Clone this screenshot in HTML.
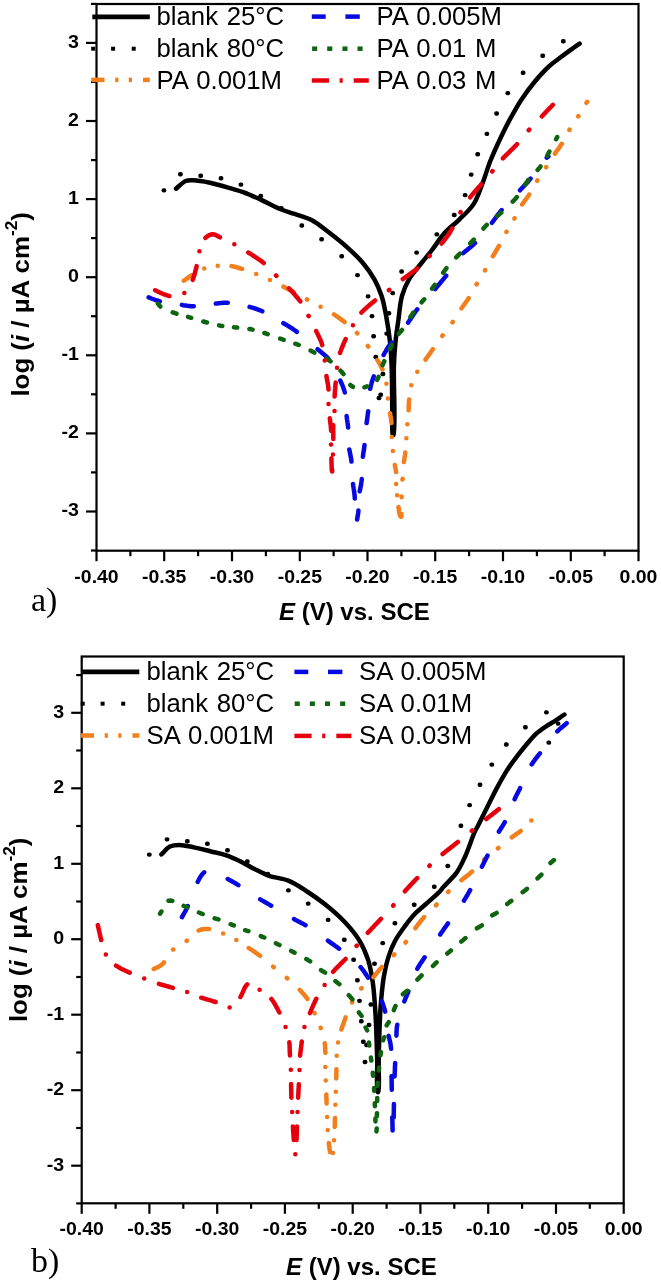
<!DOCTYPE html>
<html><head><meta charset="utf-8"><style>
html,body{margin:0;padding:0;background:#fff;width:661px;height:1280px;overflow:hidden;position:relative}
</style></head><body>
<svg width="661" height="1280" viewBox="0 0 661 1280" style="position:absolute;left:0;top:0;will-change:transform">
<rect x="96.5" y="4" width="542.0" height="546.7" fill="none" stroke="#000" stroke-width="2.2"/>
<line x1="96.5" y1="550.7" x2="96.5" y2="561.2" stroke="#000" stroke-width="2.2"/>
<line x1="130.4" y1="550.7" x2="130.4" y2="556.2" stroke="#000" stroke-width="2.2"/>
<line x1="164.2" y1="550.7" x2="164.2" y2="561.2" stroke="#000" stroke-width="2.2"/>
<line x1="198.1" y1="550.7" x2="198.1" y2="556.2" stroke="#000" stroke-width="2.2"/>
<line x1="232" y1="550.7" x2="232" y2="561.2" stroke="#000" stroke-width="2.2"/>
<line x1="265.9" y1="550.7" x2="265.9" y2="556.2" stroke="#000" stroke-width="2.2"/>
<line x1="299.8" y1="550.7" x2="299.8" y2="561.2" stroke="#000" stroke-width="2.2"/>
<line x1="333.6" y1="550.7" x2="333.6" y2="556.2" stroke="#000" stroke-width="2.2"/>
<line x1="367.5" y1="550.7" x2="367.5" y2="561.2" stroke="#000" stroke-width="2.2"/>
<line x1="401.4" y1="550.7" x2="401.4" y2="556.2" stroke="#000" stroke-width="2.2"/>
<line x1="435.2" y1="550.7" x2="435.2" y2="561.2" stroke="#000" stroke-width="2.2"/>
<line x1="469.1" y1="550.7" x2="469.1" y2="556.2" stroke="#000" stroke-width="2.2"/>
<line x1="503" y1="550.7" x2="503" y2="561.2" stroke="#000" stroke-width="2.2"/>
<line x1="536.9" y1="550.7" x2="536.9" y2="556.2" stroke="#000" stroke-width="2.2"/>
<line x1="570.8" y1="550.7" x2="570.8" y2="561.2" stroke="#000" stroke-width="2.2"/>
<line x1="604.6" y1="550.7" x2="604.6" y2="556.2" stroke="#000" stroke-width="2.2"/>
<line x1="638.5" y1="550.7" x2="638.5" y2="561.2" stroke="#000" stroke-width="2.2"/>
<line x1="86.0" y1="511.5" x2="96.5" y2="511.5" stroke="#000" stroke-width="2.2"/>
<line x1="86.0" y1="433.4" x2="96.5" y2="433.4" stroke="#000" stroke-width="2.2"/>
<line x1="86.0" y1="355.3" x2="96.5" y2="355.3" stroke="#000" stroke-width="2.2"/>
<line x1="86.0" y1="277.2" x2="96.5" y2="277.2" stroke="#000" stroke-width="2.2"/>
<line x1="86.0" y1="199.1" x2="96.5" y2="199.1" stroke="#000" stroke-width="2.2"/>
<line x1="86.0" y1="121" x2="96.5" y2="121" stroke="#000" stroke-width="2.2"/>
<line x1="86.0" y1="42.9" x2="96.5" y2="42.9" stroke="#000" stroke-width="2.2"/>
<line x1="91.0" y1="550.5" x2="96.5" y2="550.5" stroke="#000" stroke-width="2.2"/>
<line x1="91.0" y1="472.4" x2="96.5" y2="472.4" stroke="#000" stroke-width="2.2"/>
<line x1="91.0" y1="394.3" x2="96.5" y2="394.3" stroke="#000" stroke-width="2.2"/>
<line x1="91.0" y1="316.2" x2="96.5" y2="316.2" stroke="#000" stroke-width="2.2"/>
<line x1="91.0" y1="238.1" x2="96.5" y2="238.1" stroke="#000" stroke-width="2.2"/>
<line x1="91.0" y1="160.1" x2="96.5" y2="160.1" stroke="#000" stroke-width="2.2"/>
<line x1="91.0" y1="81.9" x2="96.5" y2="81.9" stroke="#000" stroke-width="2.2"/>
<line x1="91.0" y1="3.9" x2="96.5" y2="3.9" stroke="#000" stroke-width="2.2"/>
<rect x="81.7" y="656.5" width="542.0" height="546.8" fill="none" stroke="#000" stroke-width="2.2"/>
<line x1="81.7" y1="1203.3" x2="81.7" y2="1213.8" stroke="#000" stroke-width="2.2"/>
<line x1="115.6" y1="1203.3" x2="115.6" y2="1208.8" stroke="#000" stroke-width="2.2"/>
<line x1="149.4" y1="1203.3" x2="149.4" y2="1213.8" stroke="#000" stroke-width="2.2"/>
<line x1="183.3" y1="1203.3" x2="183.3" y2="1208.8" stroke="#000" stroke-width="2.2"/>
<line x1="217.2" y1="1203.3" x2="217.2" y2="1213.8" stroke="#000" stroke-width="2.2"/>
<line x1="251.1" y1="1203.3" x2="251.1" y2="1208.8" stroke="#000" stroke-width="2.2"/>
<line x1="284.9" y1="1203.3" x2="284.9" y2="1213.8" stroke="#000" stroke-width="2.2"/>
<line x1="318.8" y1="1203.3" x2="318.8" y2="1208.8" stroke="#000" stroke-width="2.2"/>
<line x1="352.7" y1="1203.3" x2="352.7" y2="1213.8" stroke="#000" stroke-width="2.2"/>
<line x1="386.6" y1="1203.3" x2="386.6" y2="1208.8" stroke="#000" stroke-width="2.2"/>
<line x1="420.4" y1="1203.3" x2="420.4" y2="1213.8" stroke="#000" stroke-width="2.2"/>
<line x1="454.3" y1="1203.3" x2="454.3" y2="1208.8" stroke="#000" stroke-width="2.2"/>
<line x1="488.2" y1="1203.3" x2="488.2" y2="1213.8" stroke="#000" stroke-width="2.2"/>
<line x1="522.1" y1="1203.3" x2="522.1" y2="1208.8" stroke="#000" stroke-width="2.2"/>
<line x1="556" y1="1203.3" x2="556" y2="1213.8" stroke="#000" stroke-width="2.2"/>
<line x1="589.8" y1="1203.3" x2="589.8" y2="1208.8" stroke="#000" stroke-width="2.2"/>
<line x1="623.7" y1="1203.3" x2="623.7" y2="1213.8" stroke="#000" stroke-width="2.2"/>
<line x1="71.2" y1="1165.7" x2="81.7" y2="1165.7" stroke="#000" stroke-width="2.2"/>
<line x1="71.2" y1="1090.2" x2="81.7" y2="1090.2" stroke="#000" stroke-width="2.2"/>
<line x1="71.2" y1="1014.7" x2="81.7" y2="1014.7" stroke="#000" stroke-width="2.2"/>
<line x1="71.2" y1="939.2" x2="81.7" y2="939.2" stroke="#000" stroke-width="2.2"/>
<line x1="71.2" y1="863.8" x2="81.7" y2="863.8" stroke="#000" stroke-width="2.2"/>
<line x1="71.2" y1="788.3" x2="81.7" y2="788.3" stroke="#000" stroke-width="2.2"/>
<line x1="71.2" y1="712.8" x2="81.7" y2="712.8" stroke="#000" stroke-width="2.2"/>
<line x1="76.2" y1="1203.4" x2="81.7" y2="1203.4" stroke="#000" stroke-width="2.2"/>
<line x1="76.2" y1="1128" x2="81.7" y2="1128" stroke="#000" stroke-width="2.2"/>
<line x1="76.2" y1="1052.5" x2="81.7" y2="1052.5" stroke="#000" stroke-width="2.2"/>
<line x1="76.2" y1="977" x2="81.7" y2="977" stroke="#000" stroke-width="2.2"/>
<line x1="76.2" y1="901.5" x2="81.7" y2="901.5" stroke="#000" stroke-width="2.2"/>
<line x1="76.2" y1="826" x2="81.7" y2="826" stroke="#000" stroke-width="2.2"/>
<line x1="76.2" y1="750.5" x2="81.7" y2="750.5" stroke="#000" stroke-width="2.2"/>
<line x1="76.2" y1="675.1" x2="81.7" y2="675.1" stroke="#000" stroke-width="2.2"/>
<text x="0" y="583" font-family="Liberation Sans" font-weight="bold" font-size="18" text-anchor="middle" transform="translate(96.5,0) scale(1.08,1)">-0.40</text>
<text x="0" y="583" font-family="Liberation Sans" font-weight="bold" font-size="18" text-anchor="middle" transform="translate(164.2,0) scale(1.08,1)">-0.35</text>
<text x="0" y="583" font-family="Liberation Sans" font-weight="bold" font-size="18" text-anchor="middle" transform="translate(232,0) scale(1.08,1)">-0.30</text>
<text x="0" y="583" font-family="Liberation Sans" font-weight="bold" font-size="18" text-anchor="middle" transform="translate(299.8,0) scale(1.08,1)">-0.25</text>
<text x="0" y="583" font-family="Liberation Sans" font-weight="bold" font-size="18" text-anchor="middle" transform="translate(367.5,0) scale(1.08,1)">-0.20</text>
<text x="0" y="583" font-family="Liberation Sans" font-weight="bold" font-size="18" text-anchor="middle" transform="translate(435.2,0) scale(1.08,1)">-0.15</text>
<text x="0" y="583" font-family="Liberation Sans" font-weight="bold" font-size="18" text-anchor="middle" transform="translate(503,0) scale(1.08,1)">-0.10</text>
<text x="0" y="583" font-family="Liberation Sans" font-weight="bold" font-size="18" text-anchor="middle" transform="translate(570.8,0) scale(1.08,1)">-0.05</text>
<text x="0" y="583" font-family="Liberation Sans" font-weight="bold" font-size="18" text-anchor="middle" transform="translate(638.5,0) scale(1.08,1)">0.00</text>
<text x="0" y="516.4" font-family="Liberation Sans" font-weight="bold" font-size="18" text-anchor="end" transform="translate(79,0) scale(1.09,1)">-3</text>
<text x="0" y="438.3" font-family="Liberation Sans" font-weight="bold" font-size="18" text-anchor="end" transform="translate(79,0) scale(1.09,1)">-2</text>
<text x="0" y="360.2" font-family="Liberation Sans" font-weight="bold" font-size="18" text-anchor="end" transform="translate(79,0) scale(1.09,1)">-1</text>
<text x="0" y="282.1" font-family="Liberation Sans" font-weight="bold" font-size="18" text-anchor="end" transform="translate(79,0) scale(1.09,1)">0</text>
<text x="0" y="204" font-family="Liberation Sans" font-weight="bold" font-size="18" text-anchor="end" transform="translate(79,0) scale(1.09,1)">1</text>
<text x="0" y="125.9" font-family="Liberation Sans" font-weight="bold" font-size="18" text-anchor="end" transform="translate(79,0) scale(1.09,1)">2</text>
<text x="0" y="47.8" font-family="Liberation Sans" font-weight="bold" font-size="18" text-anchor="end" transform="translate(79,0) scale(1.09,1)">3</text>
<text x="0" y="1235" font-family="Liberation Sans" font-weight="bold" font-size="18" text-anchor="middle" transform="translate(81.7,0) scale(1.08,1)">-0.40</text>
<text x="0" y="1235" font-family="Liberation Sans" font-weight="bold" font-size="18" text-anchor="middle" transform="translate(149.4,0) scale(1.08,1)">-0.35</text>
<text x="0" y="1235" font-family="Liberation Sans" font-weight="bold" font-size="18" text-anchor="middle" transform="translate(217.2,0) scale(1.08,1)">-0.30</text>
<text x="0" y="1235" font-family="Liberation Sans" font-weight="bold" font-size="18" text-anchor="middle" transform="translate(284.9,0) scale(1.08,1)">-0.25</text>
<text x="0" y="1235" font-family="Liberation Sans" font-weight="bold" font-size="18" text-anchor="middle" transform="translate(352.7,0) scale(1.08,1)">-0.20</text>
<text x="0" y="1235" font-family="Liberation Sans" font-weight="bold" font-size="18" text-anchor="middle" transform="translate(420.4,0) scale(1.08,1)">-0.15</text>
<text x="0" y="1235" font-family="Liberation Sans" font-weight="bold" font-size="18" text-anchor="middle" transform="translate(488.2,0) scale(1.08,1)">-0.10</text>
<text x="0" y="1235" font-family="Liberation Sans" font-weight="bold" font-size="18" text-anchor="middle" transform="translate(556,0) scale(1.08,1)">-0.05</text>
<text x="0" y="1235" font-family="Liberation Sans" font-weight="bold" font-size="18" text-anchor="middle" transform="translate(623.7,0) scale(1.08,1)">0.00</text>
<text x="0" y="1170.6" font-family="Liberation Sans" font-weight="bold" font-size="18" text-anchor="end" transform="translate(64.2,0) scale(1.09,1)">-3</text>
<text x="0" y="1095.1" font-family="Liberation Sans" font-weight="bold" font-size="18" text-anchor="end" transform="translate(64.2,0) scale(1.09,1)">-2</text>
<text x="0" y="1019.6" font-family="Liberation Sans" font-weight="bold" font-size="18" text-anchor="end" transform="translate(64.2,0) scale(1.09,1)">-1</text>
<text x="0" y="944.1" font-family="Liberation Sans" font-weight="bold" font-size="18" text-anchor="end" transform="translate(64.2,0) scale(1.09,1)">0</text>
<text x="0" y="868.7" font-family="Liberation Sans" font-weight="bold" font-size="18" text-anchor="end" transform="translate(64.2,0) scale(1.09,1)">1</text>
<text x="0" y="793.2" font-family="Liberation Sans" font-weight="bold" font-size="18" text-anchor="end" transform="translate(64.2,0) scale(1.09,1)">2</text>
<text x="0" y="717.7" font-family="Liberation Sans" font-weight="bold" font-size="18" text-anchor="end" transform="translate(64.2,0) scale(1.09,1)">3</text>
<text x="0" y="620" font-family="Liberation Sans" font-weight="bold" font-size="24" transform="translate(279,0) scale(1.0,1)"><tspan font-style="italic">E</tspan> (V) vs. SCE</text>
<text x="0" y="0" font-family="Liberation Sans" font-weight="bold" font-size="24" transform="translate(29,396.6) rotate(-90) scale(1.078,1)">log (<tspan font-style="italic">i</tspan> / µA cm<tspan font-size="16" dy="-12">-2</tspan><tspan dy="12">)</tspan></text>
<text x="31" y="611" font-family="Liberation Serif" font-size="34">a)</text>
<text x="0" y="1275" font-family="Liberation Sans" font-weight="bold" font-size="24" transform="translate(286,0) scale(1.0,1)"><tspan font-style="italic">E</tspan> (V) vs. SCE</text>
<text x="0" y="0" font-family="Liberation Sans" font-weight="bold" font-size="24" transform="translate(27.2,1022.1) rotate(-90) scale(1.078,1)">log (<tspan font-style="italic">i</tspan> / µA cm<tspan font-size="16" dy="-12">-2</tspan><tspan dy="12">)</tspan></text>
<text x="31" y="1272" font-family="Liberation Serif" font-size="34">b)</text>
<text x="0" y="24.8" font-family="Liberation Sans" font-size="25" word-spacing="1.5" transform="translate(156.5,0) scale(1.03,1)">blank 25°C</text>
<text x="0" y="56.8" font-family="Liberation Sans" font-size="25" word-spacing="1.5" transform="translate(156.5,0) scale(1.03,1)">blank 80°C</text>
<text x="0" y="88.8" font-family="Liberation Sans" font-size="25" word-spacing="1.5" transform="translate(156.5,0) scale(1.03,1)">PA 0.001M</text>
<text x="0" y="24.8" font-family="Liberation Sans" font-size="25" word-spacing="1.5" transform="translate(376.5,0) scale(1.03,1)">PA 0.005M</text>
<text x="0" y="56.8" font-family="Liberation Sans" font-size="25" word-spacing="1.5" transform="translate(376.5,0) scale(1.03,1)">PA 0.01 M</text>
<text x="0" y="88.8" font-family="Liberation Sans" font-size="25" word-spacing="1.5" transform="translate(376.5,0) scale(1.03,1)">PA 0.03 M</text>
<text x="0" y="680" font-family="Liberation Sans" font-size="25" word-spacing="1.5" transform="translate(146.5,0) scale(1.03,1)">blank 25°C</text>
<text x="0" y="712" font-family="Liberation Sans" font-size="25" word-spacing="1.5" transform="translate(146.5,0) scale(1.03,1)">blank 80°C</text>
<text x="0" y="744" font-family="Liberation Sans" font-size="25" word-spacing="1.5" transform="translate(146.5,0) scale(1.03,1)">SA 0.001M</text>
<text x="0" y="680" font-family="Liberation Sans" font-size="25" word-spacing="1.5" transform="translate(359,0) scale(1.03,1)">SA 0.005M</text>
<text x="0" y="712" font-family="Liberation Sans" font-size="25" word-spacing="1.5" transform="translate(359,0) scale(1.03,1)">SA 0.01M</text>
<text x="0" y="744" font-family="Liberation Sans" font-size="25" word-spacing="1.5" transform="translate(359,0) scale(1.03,1)">SA 0.03M</text>
<path d="M176,188.7 C179.2,186.1 182.5,182.3 185.7,181 C188.2,180 190.1,180.2 193,180.3 C197.5,180.4 204,181.5 209.9,182.7 C216.7,184.1 225.5,186.9 231.7,188.7 C236.3,190 239.5,190.8 243.8,192.4 C249,194.3 254.9,197 260.7,199.6 C267,202.5 274,206.5 280,209 C285.1,211.1 289.5,212.2 294.5,213.9 C299.9,215.8 306,217.1 311.5,220 C317.4,223.1 322.6,227.6 328.4,232 C334.7,236.8 341.9,242.5 347.8,247.8 C353.1,252.6 357.9,257.1 362.3,262.3 C366.8,267.6 371.1,273.5 374.4,279.3 C377.5,284.8 379.7,290.1 381.7,296.2 C383.9,302.9 385.1,310.5 386.5,318 C388,326 389.2,334.6 390.1,342.7 C390.9,350.4 391.2,356.2 391.6,365.4 C392.2,379.6 392.1,407.3 392.4,419.8 C392.5,426.4 391.8,434.1 392.8,435 C393,435.2 393.4,435.2 393.6,435 C395.9,432.8 393.3,382.3 393.9,365.4 C394.2,355.8 394.7,350.3 395.4,342.7 C396.2,335.1 397.3,327.7 398.4,320 C399.5,312 400,303 402.1,295.7 C403.9,289.4 406.2,284.1 409.4,278.7 C412.7,273.1 417.6,268 421.5,263 C425.1,258.4 428.4,254.7 432,250 C436,244.8 439.9,238.2 444.5,233.1 C448.9,228.2 454.3,224.5 459,219.8 C464,214.9 469.8,210 473.6,204.1 C477.4,198.3 479.3,191.6 482,184.7 C485,177.1 487.4,168.3 490.5,160.5 C493.5,153 496.9,145.7 500.2,138.7 C503.4,132 506.4,125.8 509.9,119.4 C513.4,112.9 517,106.3 521.2,99.9 C525.6,93.3 530.8,86.4 535.7,80.5 C540.2,75.2 544.9,70.1 549.4,66 C553.1,62.6 556.8,60.2 560.3,57.5 C563.6,55 566.8,52.6 570,50.3 C573.2,48 576.4,45.8 579.6,43.6" fill="none" stroke="#000" stroke-width="4.5" stroke-linecap="round" stroke-linejoin="round"/>
<rect x="161.5" y="188.2" width="4.8" height="4.4" rx="2" fill="#000"/><rect x="178" y="172" width="4.8" height="4.4" rx="2" fill="#000"/><rect x="198.3" y="173.5" width="4.8" height="4.4" rx="2" fill="#000"/><rect x="218.6" y="176.1" width="4.8" height="4.4" rx="2" fill="#000"/><rect x="238.5" y="182.4" width="4.8" height="4.4" rx="2" fill="#000"/><rect x="258.3" y="193.8" width="4.8" height="4.4" rx="2" fill="#000"/><rect x="278.9" y="205.9" width="4.8" height="4.4" rx="2" fill="#000"/><rect x="299.4" y="223.3" width="4.8" height="4.4" rx="2" fill="#000"/><rect x="319.2" y="237.1" width="4.8" height="4.4" rx="2" fill="#000"/><rect x="339.3" y="254.1" width="4.8" height="4.4" rx="2" fill="#000"/><rect x="355.1" y="272.9" width="4.8" height="4.4" rx="2" fill="#000"/><rect x="365.7" y="294.2" width="4.8" height="4.4" rx="2" fill="#000"/><rect x="369.6" y="313.9" width="4.8" height="4.4" rx="2" fill="#000"/><rect x="371.2" y="334.1" width="4.8" height="4.4" rx="2" fill="#000"/><rect x="373.4" y="354.8" width="4.8" height="4.4" rx="2" fill="#000"/><rect x="380.5" y="371.8" width="4.8" height="4.4" rx="2" fill="#000"/><rect x="378.3" y="392.6" width="4.8" height="4.4" rx="2" fill="#000"/><rect x="376.6" y="395.8" width="4.8" height="4.4" rx="2" fill="#000"/><rect x="384.3" y="331.4" width="4.8" height="4.4" rx="2" fill="#000"/><rect x="386.5" y="311.1" width="4.8" height="4.4" rx="2" fill="#000"/><rect x="390.3" y="290.9" width="4.8" height="4.4" rx="2" fill="#000"/><rect x="399.2" y="269.3" width="4.8" height="4.4" rx="2" fill="#000"/><rect x="414.2" y="250.4" width="4.8" height="4.4" rx="2" fill="#000"/><rect x="434.4" y="232.2" width="4.8" height="4.4" rx="2" fill="#000"/><rect x="451.8" y="212.8" width="4.8" height="4.4" rx="2" fill="#000"/><rect x="462.7" y="192.9" width="4.8" height="4.4" rx="2" fill="#000"/><rect x="468.8" y="172.4" width="4.8" height="4.4" rx="2" fill="#000"/><rect x="475.3" y="152" width="4.8" height="4.4" rx="2" fill="#000"/><rect x="484.5" y="131.7" width="4.8" height="4.4" rx="2" fill="#000"/><rect x="494.2" y="111.3" width="4.8" height="4.4" rx="2" fill="#000"/><rect x="505.4" y="90.9" width="4.8" height="4.4" rx="2" fill="#000"/><rect x="520.7" y="70.6" width="4.8" height="4.4" rx="2" fill="#000"/><rect x="540.3" y="53.5" width="4.8" height="4.4" rx="2" fill="#000"/><rect x="560.9" y="39" width="4.8" height="4.4" rx="2" fill="#000"/>
<path d="M183.8,280.7 185.2,279.8 186.5,278.8 187.8,277.9 189.1,276.9 190.5,276.0 191.8,275.1M204.2,268.4l0.05,0M217.7,265.7l0.05,0M231.5,266.1 233.0,266.4 234.6,266.8 236.1,267.2 237.6,267.6 239.1,268.0 240.6,268.5 242.1,268.9M256.2,274.1l0.05,0M269.9,280.1l0.05,0M283.4,286.7 284.9,287.4 286.4,288.2 287.8,288.9 289.3,289.7 290.7,290.4 292.2,291.2 293.6,292.0M306.9,299.4 307.2,299.6M320.6,306.7l0.05,0M334.0,314.4 335.4,315.3 336.7,316.3 338.1,317.2 339.4,318.2 340.7,319.1 342.0,320.1 343.3,321.1 344.5,322.1M356.9,333.0 357.3,333.4M367.8,346.0 368.3,346.6M377.4,360.1 378.2,361.4 379.0,362.7 379.7,364.0 380.5,365.4 381.2,366.7 381.9,368.1 382.5,369.5M386.4,383.8l0.05,0M387.9,398.5l0.05,0M390.0,413.2 390.3,414.8 390.6,416.4 390.9,418.0 391.1,419.6 391.3,421.2 391.5,422.9M391.8,437.0l0.05,0M392.8,450.9l0.05,0M394.8,464.9 395.1,466.7 395.5,468.5 395.8,470.3 396.1,472.1M396.1,484.0l0.05,0M397.1,495.2l0.05,0M398.5,507.1 398.7,508.6 398.9,510.1 399.1,511.6 399.4,513.1 399.7,514.6 400.2,516.0 401.1,516.9 401.4,515.5 401.5,514.0M401.6,497.2 401.6,496.5M402.5,479.5 402.6,478.7M403.8,462.1 404.1,460.4 404.4,458.8 404.6,457.2 404.9,455.6 405.1,454.0 405.3,452.4M406.3,438.2l0.05,0M407.3,424.2l0.05,0M408.6,410.3 408.7,408.8 408.7,407.2 408.8,405.7 408.8,404.2 408.9,402.6 409.0,401.1 409.1,399.6M411.3,385.2l0.05,0M417.3,371.8l0.05,0M425.5,359.6 426.4,358.3 427.3,357.0 428.2,355.7 429.2,354.4 430.1,353.1 431.0,351.8 431.9,350.5 432.9,349.2M442.3,335.9 442.7,335.3M452.5,322.3 452.8,321.9M461.5,308.3 462.4,307.0 463.3,305.8 464.2,304.5 465.1,303.3 466.0,302.0 466.9,300.8 467.8,299.5 468.6,298.2M476.6,284.4 476.8,283.9M485.0,270.5 485.2,270.0M492.8,256.2 493.6,255.0 494.4,253.7 495.2,252.4 495.9,251.1 496.7,249.8 497.5,248.5 498.2,247.2 499.0,245.9M506.4,232.0 506.5,231.8M514.4,218.5 514.5,218.2M522.1,204.5 523.0,203.2 523.9,202.0 524.8,200.7 525.7,199.5 526.6,198.3 527.5,197.0 528.4,195.8 529.2,194.5M537.1,180.9 537.4,180.4M546.1,167.3 546.2,167.1M554.9,153.7 555.8,152.4 556.6,151.2 557.5,150.0 558.4,148.8 559.3,147.6 560.1,146.3 560.9,145.1 561.8,143.8M569.4,130.0 569.6,129.6M578.2,116.4 578.4,116.2M586.5,102.8 587.2,101.8" fill="none" stroke="#f27f1b" stroke-width="4.5" stroke-linecap="round" stroke-linejoin="round"/>
<path d="M148.6,297.4 150.0,297.9 151.4,298.5 152.8,299.0 154.2,299.5 155.6,300.1 157.0,300.5 158.5,301.0 159.9,301.4M181.9,304.9 183.3,305.2 184.8,305.4 186.3,305.6 187.8,305.9 189.3,306.0 190.8,306.2 192.3,306.3 193.8,306.3M215.8,303.6 217.3,303.4 218.8,303.2 220.3,303.1 221.8,302.9 223.3,302.8 224.8,302.7 226.3,302.7 227.8,302.7M249.6,306.9 251.0,307.3 252.5,307.7 253.9,308.1 255.3,308.6 256.8,309.1 258.2,309.6 259.6,310.2 261.0,310.7 262.3,311.3M283.4,323.2 284.8,324.0 286.2,324.8 287.6,325.6 289.0,326.5 290.3,327.3 291.7,328.2 293.0,329.1 294.3,330.0 295.6,330.9 296.9,331.9M317.6,349.2 318.9,350.2 320.1,351.2 321.3,352.2 322.5,353.2 323.7,354.2 324.9,355.3 326.1,356.3 327.2,357.4 328.3,358.6M340.3,380.6 341.0,382.1 341.6,383.5 342.3,385.0 342.9,386.5 343.4,387.9 344.0,389.5 344.4,391.0 344.8,392.5M346.6,415.9 346.8,417.6 347.0,419.3 347.3,420.9 347.5,422.6 347.8,424.2 348.0,425.9 348.1,427.6M349.3,449.5 349.6,451.0 349.9,452.5 350.2,454.0 350.5,455.5 350.8,457.0 351.1,458.5 351.3,460.1 351.5,461.6M353.0,484.0 353.2,485.6 353.5,487.3 353.7,488.9 354.0,490.5 354.2,492.1 354.4,493.7 354.6,495.4 354.7,497.0 354.8,498.6M357.1,519.5 357.4,518.0 357.6,516.5 357.9,515.0 358.1,513.5 358.3,511.9 358.4,510.4M359.7,491.2 360.0,489.7 360.3,488.2 360.6,486.7 360.9,485.2 361.2,483.7 361.4,482.2 361.6,480.7 361.8,479.1M362.9,456.7 363.1,455.0 363.3,453.3 363.6,451.7 363.9,450.0 364.1,448.4 364.3,446.7 364.5,445.0M366.6,423.1 366.8,421.6 367.0,420.2 367.2,418.7 367.4,417.2 367.6,415.7 367.8,414.2 368.0,412.7 368.2,411.2M370.1,388.8 370.5,387.3 370.8,385.7 371.3,384.1 371.7,382.5 372.2,381.0 372.7,379.5 373.3,377.9 373.8,376.4M383.6,355.0 384.3,353.7 385.0,352.4 385.8,351.1 386.5,349.8 387.3,348.6 388.1,347.3 389.0,346.0 389.8,344.8 390.7,343.6 391.6,342.4M408.1,322.6 409.0,321.3 409.9,319.9 410.8,318.6 411.7,317.2 412.6,315.9 413.5,314.5 414.4,313.2 415.4,311.8 416.3,310.5 417.3,309.3M435.2,289.0 436.2,287.8 437.2,286.6 438.2,285.4 439.2,284.2 440.2,283.0 441.2,281.8 442.2,280.6 443.2,279.4 444.2,278.2 445.2,276.9 446.2,275.7M463.2,253.2 464.3,252.2 465.5,251.1 466.7,250.2 467.9,249.2 469.1,248.2 470.3,247.3 471.5,246.3 472.7,245.3 473.8,244.2 475.0,243.1M492.0,222.8 492.9,221.5 493.8,220.3 494.8,219.0 495.7,217.7 496.7,216.4 497.6,215.1 498.6,213.8 499.6,212.6 500.6,211.3 501.6,210.1M520.0,190.3 521.1,189.1 522.1,188.0 523.2,186.8 524.3,185.7 525.4,184.5 526.4,183.4 527.5,182.2 528.5,181.0 529.5,179.8 530.6,178.6M546.7,157.7 548.4,156.4" fill="none" stroke="#0808e0" stroke-width="4.5" stroke-linecap="round" stroke-linejoin="round"/>
<path d="M157.9,303.7 159.1,305.2 160.3,306.5M172.7,312.4 174.6,313.0 176.5,313.7M188.0,316.8 189.6,317.3 191.2,317.8M203.3,321.5 205.1,322.0 207.0,322.5M219.1,325.4 220.7,325.7 222.3,325.9M234.0,327.3 235.6,327.4 237.2,327.6M249.4,329.0 251.0,329.3 252.6,329.6M264.4,333.0 266.0,333.5 267.7,334.1M280.1,338.6 281.9,339.2 283.7,339.8M295.3,343.7 297.1,344.3 298.8,345.0M310.6,350.6 312.4,351.6 314.3,352.6M326.4,358.6 327.8,359.5 329.2,360.4 330.6,361.3M340.6,370.7 341.6,371.8 342.6,373.0 343.5,374.1M350.3,384.9 351.5,386.0 352.9,386.8M364.4,387.3 367.0,386.4M377.1,379.8 377.9,378.4 378.6,376.9M382.6,365.1 383.4,363.1 384.3,361.2M390.0,348.9 390.7,347.6 391.4,346.3 392.0,344.9M398.7,333.8 399.8,332.5 401.0,331.3 402.0,330.0M410.4,317.0 411.4,315.5 412.3,314.1 413.3,312.6M421.6,302.3 422.9,300.8 424.2,299.3M432.1,288.6 433.0,287.3 433.9,286.0 434.8,284.8M443.2,272.6 444.3,271.1 445.4,269.7 446.5,268.2M456.2,257.4 457.4,256.2 458.6,254.9 459.9,253.7M470.2,243.4 471.4,242.2 472.6,240.9 473.8,239.7M483.4,228.5 484.5,227.2 485.6,226.0 486.8,224.8M497.1,216.1 498.5,214.9 499.9,213.8 501.3,212.6M512.7,201.7 513.8,200.6 514.8,199.4 515.9,198.2 516.9,197.1M525.2,184.6 526.2,183.1 527.1,181.7 528.1,180.2M537.6,169.9 538.6,168.8 539.6,167.7 540.5,166.5M547.2,155.7 547.9,154.3 548.7,152.9 549.4,151.5M556.1,139.2 557.2,137.1" fill="none" stroke="#0f640f" stroke-width="4.5" stroke-linecap="round" stroke-linejoin="round"/>
<path d="M155.1,290.3 156.5,290.9 157.9,291.6 159.3,292.2 160.7,292.9 162.1,293.5 163.5,294.1 165.0,294.7 166.4,295.2 167.9,295.7 169.4,296.0M184.3,293.0l0.05,0M192.7,279.8 193.3,278.3 193.8,276.8 194.3,275.3 194.7,273.8 195.1,272.2 195.5,270.7 195.9,269.2 196.3,267.6 196.6,266.1M199.4,251.2l0.05,0M205.4,237.9 206.6,236.8 207.9,235.9 209.4,235.1 210.9,234.5 212.5,234.2 214.1,234.4 215.6,234.9 217.1,235.7 218.5,236.5 219.9,237.3M234.3,244.2l0.05,0M248.3,252.5 249.6,253.3 250.9,254.1 252.2,255.0 253.5,255.8 254.8,256.7 256.2,257.5 257.4,258.4 258.7,259.3 260.0,260.2 261.3,261.1 262.5,262.1 263.7,263.1M276.0,275.5 276.4,275.9M289.0,288.3 290.1,289.5 291.1,290.6 292.2,291.8 293.2,292.9 294.3,294.1 295.3,295.3 296.3,296.5 297.3,297.7 298.3,298.9 299.3,300.1 300.3,301.4M308.5,315.9 308.7,316.1M316.2,331.1 316.8,332.5 317.5,333.8 318.2,335.2 318.9,336.6 319.5,337.9 320.1,339.3 320.7,340.7 321.3,342.2 321.8,343.6 322.2,345.1M324.7,360.5l0.05,0M326.4,376.0 326.7,377.5 326.9,379.0 327.2,380.5 327.5,382.0 327.8,383.5 328.0,385.0 328.2,386.5 328.4,388.1 328.5,389.6M328.5,404.1l0.05,0M329.8,418.3 330.0,419.8 330.2,421.4 330.4,423.0 330.6,424.6 330.8,426.2 330.9,427.8 331.0,429.4 331.1,430.9M331.0,444.6l0.05,0M331.4,458.2 331.4,459.7 331.5,461.2 331.5,462.8 331.6,464.3 331.6,465.8 331.7,467.3 331.7,468.9 331.8,470.4 332.1,471.5 332.2,470.0M332.9,454.5l0.05,0M333.3,439.0 333.3,437.5 333.3,436.0 333.3,434.4 333.3,432.9 333.2,431.4 333.2,429.9 333.2,428.3 333.3,426.8 333.3,425.3M334.5,411.1l0.05,0M334.6,396.6 334.7,395.0 334.8,393.4 334.9,391.9 335.0,390.3 335.2,388.7 335.3,387.1 335.4,385.5 335.5,384.0 335.7,382.4M337.0,367.7l0.05,0M340.0,353.0 340.5,351.6 341.0,350.2 341.5,348.8 342.1,347.4 342.7,346.0 343.2,344.6 343.8,343.2 344.4,341.9 345.0,340.5 345.7,339.1M352.9,325.3l0.05,0M361.4,312.6 362.5,311.5 363.6,310.4 364.7,309.4 365.8,308.3 366.9,307.3 368.1,306.3 369.2,305.3 370.4,304.3 371.6,303.4 372.7,302.4 373.9,301.4 375.1,300.5M388.9,290.2 389.3,289.9M402.8,279.1 404.0,278.2 405.2,277.4 406.5,276.5 407.7,275.6 408.9,274.7 410.1,273.9 411.3,273.0 412.5,272.1 413.8,271.2 415.0,270.3 416.2,269.4 417.3,268.5M429.4,256.2 429.7,255.8M441.5,243.5 442.5,242.4 443.5,241.2 444.5,240.0 445.5,238.7 446.4,237.5 447.3,236.2 448.2,234.9 449.1,233.6 449.9,232.3 450.7,231.0 451.5,229.6 452.3,228.3M460.4,212.5 460.6,212.0M470.1,197.4 471.1,196.1 472.1,194.9 473.1,193.7 474.1,192.5 475.1,191.3 476.2,190.2 477.2,189.0 478.2,187.8 479.3,186.6 480.3,185.5 481.3,184.3M492.2,171.5 492.5,171.1M502.9,158.3 504.0,157.2 505.1,156.1 506.2,155.0 507.3,154.0 508.4,152.9 509.5,151.8 510.6,150.7 511.7,149.7 512.8,148.6 513.8,147.5 514.9,146.4 516.0,145.3 517.0,144.2M528.7,130.2 529.2,129.6M541.8,116.4 542.9,115.2 544.0,114.1 545.1,112.9 546.2,111.8 547.3,110.6 548.4,109.4 549.6,108.3 550.7,107.1 551.8,106.0 552.9,104.8" fill="none" stroke="#e6000e" stroke-width="4.5" stroke-linecap="round" stroke-linejoin="round"/>
<path d="M161.4,854.4 C164.2,851.8 166.7,848.2 169.9,846.6 C172.8,845.2 176,844.9 179.6,844.9 C183.9,844.9 189.1,846.4 194.1,847.4 C199.5,848.5 205.6,850.2 211,851.5 C216,852.7 220.8,853.5 225.6,855.1 C230.5,856.7 235.3,858.9 240.1,861.2 C245,863.5 249.7,866.6 254.5,869 C259.3,871.4 263.7,873.9 269,875.8 C274.9,877.9 282.1,878.1 288.4,880.7 C295.1,883.4 301.6,888 307.8,892 C313.7,895.8 319,899.5 324.7,904.1 C331.2,909.3 338.6,915.6 344.5,921.8 C350,927.6 355,933.5 359,939.9 C362.9,946.2 365.8,953 368.1,959.9 C370.4,966.9 371.5,973.8 372.7,981.8 C374.1,991.2 374.7,1001.2 375.4,1012.6 C376.3,1026.7 376.8,1045.6 377.2,1059.8 C377.5,1071.6 376.2,1090.6 377.6,1092 C377.8,1092.2 378.1,1092.2 378.3,1092 C379.7,1090.6 378.4,1071.7 378.7,1059.8 C379,1045 379.7,1022.3 380.4,1010 C380.8,1002.8 381.2,998.7 381.8,992.9 C382.4,986.9 383,980.8 384.2,974.7 C385.4,968.3 387,961.3 389,955.4 C390.7,950.1 392.6,945.5 395.1,940.8 C397.8,935.8 401.5,930.8 404.8,926.3 C407.9,922 411,917.9 414.5,914.2 C417.9,910.6 421.5,908 425.4,904.5 C429.9,900.4 436.9,894.5 440,891.2 C441.6,889.5 441.8,888.9 443.3,887.1 C446.2,883.7 452.9,877.8 456.6,872.6 C460.1,867.7 462.3,862.7 465,856.8 C468.3,849.6 472,838 474.5,832.4 C475.9,829.3 476.8,828 478.1,825.4 C479.7,822.2 481.7,818.3 483.6,814.5 C485.6,810.4 487.8,806 489.9,801.8 C492,797.6 493.8,793.8 496.3,789.1 C499.6,783 504.4,774.3 508.2,768.5 C511.1,764 513.6,760.8 516.6,756.9 C519.7,752.9 523,748.7 526.3,744.8 C529.5,741 532.6,737 536,733.9 C539.1,731 542.4,728.8 545.7,726.6 C548.9,724.4 552.2,722.6 555.4,720.6 C558.5,718.6 561.4,716.5 564.4,714.5" fill="none" stroke="#000" stroke-width="4.5" stroke-linecap="round" stroke-linejoin="round"/>
<rect x="146.9" y="852.4" width="4.8" height="4.4" rx="2" fill="#000"/><rect x="164.6" y="837.2" width="4.8" height="4.4" rx="2" fill="#000"/><rect x="184.9" y="839.1" width="4.8" height="4.4" rx="2" fill="#000"/><rect x="205" y="841.5" width="4.8" height="4.4" rx="2" fill="#000"/><rect x="225.1" y="848.1" width="4.8" height="4.4" rx="2" fill="#000"/><rect x="244.9" y="859.3" width="4.8" height="4.4" rx="2" fill="#000"/><rect x="265.4" y="871.7" width="4.8" height="4.4" rx="2" fill="#000"/><rect x="286" y="888.2" width="4.8" height="4.4" rx="2" fill="#000"/><rect x="305.8" y="901.4" width="4.8" height="4.4" rx="2" fill="#000"/><rect x="325.7" y="917.7" width="4.8" height="4.4" rx="2" fill="#000"/><rect x="341.9" y="937.6" width="4.8" height="4.4" rx="2" fill="#000"/><rect x="351.2" y="957.6" width="4.8" height="4.4" rx="2" fill="#000"/><rect x="355" y="978" width="4.8" height="4.4" rx="2" fill="#000"/><rect x="357.1" y="998.7" width="4.8" height="4.4" rx="2" fill="#000"/><rect x="358.9" y="1019.1" width="4.8" height="4.4" rx="2" fill="#000"/><rect x="360.9" y="1039.5" width="4.8" height="4.4" rx="2" fill="#000"/><rect x="362.6" y="1059.8" width="4.8" height="4.4" rx="2" fill="#000"/><rect x="364.2" y="1042.8" width="4.8" height="4.4" rx="2" fill="#000"/><rect x="366.6" y="1022.8" width="4.8" height="4.4" rx="2" fill="#000"/><rect x="368.5" y="1002.3" width="4.8" height="4.4" rx="2" fill="#000"/><rect x="372.1" y="961.6" width="4.8" height="4.4" rx="2" fill="#000"/><rect x="380.3" y="940.9" width="4.8" height="4.4" rx="2" fill="#000"/><rect x="392.5" y="921.1" width="4.8" height="4.4" rx="2" fill="#000"/><rect x="411.8" y="902.6" width="4.8" height="4.4" rx="2" fill="#000"/><rect x="431.9" y="884.6" width="4.8" height="4.4" rx="2" fill="#000"/><rect x="445.4" y="863.8" width="4.8" height="4.4" rx="2" fill="#000"/><rect x="458.5" y="823.5" width="4.8" height="4.4" rx="2" fill="#000"/><rect x="467.2" y="802.9" width="4.8" height="4.4" rx="2" fill="#000"/><rect x="477.6" y="782.5" width="4.8" height="4.4" rx="2" fill="#000"/><rect x="489.4" y="762.4" width="4.8" height="4.4" rx="2" fill="#000"/><rect x="503.9" y="742.3" width="4.8" height="4.4" rx="2" fill="#000"/><rect x="523" y="725.1" width="4.8" height="4.4" rx="2" fill="#000"/><rect x="544" y="710.2" width="4.8" height="4.4" rx="2" fill="#000"/><rect x="555.7" y="721.4" width="4.8" height="4.4" rx="2" fill="#000"/><rect x="546.4" y="740.4" width="4.8" height="4.4" rx="2" fill="#000"/>
<path d="M153.7,969.1 155.1,968.4 156.5,967.8 157.9,967.1 159.2,966.4 160.5,965.6 161.8,964.7 162.9,963.7 163.9,962.5M173.1,949.6 173.3,949.5M186.7,940.9 186.9,940.7M198.6,930.5 200.0,930.0 201.5,929.5 203.0,929.2 204.5,929.0 206.1,928.9 207.6,928.9 209.1,928.9M223.1,933.5l0.05,0M236.3,940.0l0.05,0M248.7,948.0 250.0,948.9 251.3,949.7 252.5,950.5 253.8,951.4 255.1,952.2 256.3,953.1 257.6,954.0 258.8,954.9 260.0,955.8M273.1,966.7 273.7,967.2M286.8,977.9 287.4,978.4M299.7,989.8 300.7,990.9 301.7,992.0 302.7,993.1 303.7,994.2 304.7,995.4 305.6,996.5 306.5,997.7 307.4,999.0M314.5,1013.0 314.6,1013.2M320.7,1027.7 320.8,1028.0M324.8,1043.2 324.9,1044.8 325.1,1046.4 325.2,1048.0 325.2,1049.7 325.3,1051.3 325.4,1052.9M325.3,1066.9l0.05,0M325.7,1080.6l0.05,0M326.3,1094.6 326.3,1096.1 326.4,1097.6 326.5,1099.1 326.5,1100.6 326.6,1102.1 326.6,1103.6M327.1,1116.9l0.05,0M327.7,1129.9l0.05,0M328.8,1143.1 329.0,1144.5 329.2,1146.0 329.4,1147.5 329.6,1149.0 329.8,1150.5 330.0,1152.0M332.9,1153.1l0.05,0M334.0,1140.2l0.05,0M334.7,1126.9 334.8,1125.4 334.8,1123.9 334.9,1122.4 334.9,1120.9 334.9,1119.4 335.0,1117.9M335.3,1104.8l0.05,0M335.8,1091.8l0.05,0M336.2,1078.4 336.3,1076.9 336.3,1075.3 336.3,1073.8 336.4,1072.2 336.4,1070.7 336.4,1069.2M336.7,1055.7l0.05,0M338.0,1042.5l0.05,0M341.4,1029.4 341.9,1027.9 342.4,1026.4 343.0,1024.9 343.5,1023.4 344.0,1021.9 344.6,1020.4 345.1,1018.9 345.6,1017.4M352.0,1002.4 352.2,1002.0M361.2,988.5 361.6,988.2M373.5,977.2 374.5,975.9 375.6,974.6 376.6,973.3 377.7,972.0 378.7,970.7 379.7,969.4 380.8,968.2 381.9,967.0M393.7,955.1 394.3,954.5M405.5,942.5 406.0,941.9M415.4,928.1 416.3,926.8 417.3,925.6 418.2,924.3 419.2,923.1 420.1,921.9 421.1,920.6 422.1,919.4 423.1,918.3 424.1,917.1M436.0,905.3 436.6,904.5M448.1,892.0 448.6,891.4M461.4,880.2 462.6,879.3 463.8,878.3 465.0,877.4 466.2,876.4 467.4,875.5 468.6,874.5 469.8,873.6 470.9,872.6 472.1,871.6M484.2,859.6 484.7,859.1M497.9,848.4 498.5,847.9M511.7,837.3 513.0,836.4 514.3,835.5 515.6,834.6 516.9,833.7 518.2,832.8 519.5,831.9 520.7,831.0M531.3,820.4l0.05,0" fill="none" stroke="#f27f1b" stroke-width="4.5" stroke-linecap="round" stroke-linejoin="round"/>
<path d="M181.9,917.2 182.7,915.9 183.4,914.5 184.2,913.2 185.0,911.8 185.7,910.4 186.5,909.0 187.2,907.7 187.8,906.2M197.7,881.9 198.4,880.5 199.2,879.0 200.0,877.5 200.9,876.1 201.9,874.7 203.0,873.4 204.2,872.3M227.7,879.1 229.1,879.8 230.5,880.5 231.8,881.2 233.1,882.0 234.5,882.7 235.8,883.5 237.1,884.3 238.4,885.1M260.2,899.3 261.5,900.1 262.9,900.9 264.3,901.7 265.7,902.5 267.0,903.3 268.4,904.1 269.8,904.9 271.2,905.7M294.0,919.1 295.5,919.9 296.9,920.6 298.4,921.4 299.8,922.1 301.3,922.9 302.7,923.6 304.1,924.4 305.5,925.2M327.9,940.7 329.2,941.6 330.4,942.5 331.7,943.3 332.9,944.2 334.2,945.1 335.4,946.0 336.7,946.9 337.9,947.8 339.1,948.7M360.5,967.1 361.6,968.3 362.6,969.6 363.6,970.9 364.5,972.2 365.4,973.6 366.3,974.9 367.2,976.3 368.1,977.6M381.8,1001.2 382.4,1002.6 382.9,1004.1 383.4,1005.6 383.9,1007.1 384.4,1008.6 384.8,1010.1 385.2,1011.6M388.6,1035.9 389.0,1037.5 389.4,1039.1 389.8,1040.7 390.2,1042.3 390.5,1043.9 390.7,1045.6 390.9,1047.2 391.1,1048.8M391.5,1076.3 391.6,1077.8 391.6,1079.3 391.6,1080.8 391.7,1082.3 391.7,1083.8 391.7,1085.3 391.7,1086.8 391.8,1088.3 391.8,1089.8M392.3,1117.3 392.3,1119.0 392.4,1120.6 392.4,1122.3 392.5,1124.0 392.5,1125.6 392.5,1127.3 392.6,1128.9 392.6,1130.6M393.7,1117.4 393.7,1115.7 393.7,1114.0 393.8,1112.4 393.8,1110.7 393.8,1109.1 393.9,1107.4 393.9,1105.8 393.9,1104.1M394.6,1076.4 394.7,1074.7 394.7,1073.1 394.8,1071.4 394.9,1069.8 394.9,1068.1 395.0,1066.4 395.1,1064.8 395.1,1063.1M396.4,1035.7 396.5,1034.1 396.5,1032.5 396.6,1030.9 396.7,1029.4 396.8,1027.8 397.0,1026.3 397.3,1024.7M404.3,1001.3 404.9,999.8 405.5,998.4 406.1,997.0 406.7,995.6 407.3,994.2 407.9,992.8 408.4,991.3M417.3,968.8 418.0,967.5 418.8,966.2 419.6,964.9 420.4,963.6 421.2,962.4 422.1,961.1 422.9,959.9 423.7,958.7 424.6,957.4M440.2,934.5 441.0,933.2 441.9,932.0 442.8,930.8 443.6,929.6 444.5,928.3 445.3,927.1 446.2,925.9 447.1,924.7 448.0,923.4M463.9,900.7 464.7,899.4 465.5,898.1 466.3,896.8 467.1,895.5 467.8,894.2 468.6,892.8 469.3,891.5 470.1,890.2M481.9,866.7 482.6,865.3 483.3,863.9 484.0,862.5 484.7,861.1 485.4,859.7 486.1,858.3 486.8,856.9 487.5,855.5M498.9,831.6 499.8,830.3 500.6,828.9 501.5,827.6 502.4,826.2 503.2,824.9 504.0,823.5 504.8,822.1M514.6,799.3 515.2,797.9 515.9,796.5 516.6,795.1 517.3,793.7 518.0,792.3 518.7,790.9 519.5,789.5 520.1,788.1M531.7,764.3 532.6,763.1 533.4,761.8 534.3,760.6 535.2,759.3 536.2,758.1 537.1,756.9 538.0,755.7 539.0,754.5 539.9,753.3M557.3,731.4 558.4,730.3 559.6,729.2 560.7,728.2 561.9,727.2 563.1,726.2 564.3,725.2 565.5,724.2 566.7,723.2" fill="none" stroke="#0808e0" stroke-width="4.5" stroke-linecap="round" stroke-linejoin="round"/>
<path d="M160.1,913.7 161.4,911.5M168.5,900.7 170.5,900.5 172.4,900.9M183.6,905.9 185.3,906.5 187.1,907.2M198.9,912.5 200.8,913.3 202.7,914.0M214.6,918.3 216.6,918.9 218.5,919.4M230.6,924.2 232.2,924.8 233.8,925.4M245.1,930.2 246.8,930.7 248.5,931.1M260.8,936.1 262.5,936.8 264.3,937.5M275.9,943.3 277.7,944.2 279.5,945.1M291.1,950.9 292.9,951.8 294.6,952.7M306.3,959.1 307.6,959.8 308.9,960.6 310.2,961.4M321.0,970.2 322.3,971.0 323.7,971.8 325.1,972.6M335.4,981.2 336.8,982.2 338.1,983.2 339.4,984.2M348.8,995.2 350.1,996.6 351.3,998.0 352.4,999.4M358.9,1012.4 359.7,1013.6 360.7,1014.7 361.6,1016.0M365.6,1027.5 366.4,1028.9 367.1,1030.4M368.9,1042.5 369.1,1044.0 369.3,1045.5M370.9,1057.6 371.1,1059.1 371.3,1060.6M372.8,1072.7 372.9,1074.2 373.1,1075.7M374.1,1087.9 374.1,1089.4 374.2,1090.9M374.8,1103.2 374.8,1104.7 374.9,1106.2M375.4,1118.4 375.4,1119.9 375.5,1121.4M376.5,1131.4 376.6,1129.9 376.7,1128.4M376.9,1116.2 376.9,1114.7 377.0,1113.2M377.2,1100.9 377.2,1099.4 377.2,1097.9M377.7,1085.7 377.7,1084.2 377.8,1082.7M378.8,1070.5 379.0,1069.0 379.1,1067.5M380.5,1055.3 380.7,1053.7 381.0,1052.1M383.1,1040.3 383.6,1038.8 384.2,1037.2M386.7,1025.3 387.7,1023.7 388.7,1022.2M393.8,1010.2 394.3,1008.8 394.9,1007.4 395.5,1006.0M402.9,994.2 404.3,993.0 405.8,991.9 407.2,990.8M417.4,979.7 418.4,978.7 419.4,977.6 420.5,976.5 421.6,975.5M432.9,966.0 434.1,964.8 435.3,963.5 436.6,962.3M447.3,953.6 448.5,952.6 449.7,951.6 450.9,950.5M461.3,941.5 462.7,940.4 464.1,939.2 465.5,938.1M476.9,928.3 478.6,927.3 480.2,926.3 481.8,925.3M492.3,915.3 493.7,914.5 495.2,913.7 496.6,912.9M507.2,904.0 508.5,902.9 509.9,901.8 511.3,900.8M522.6,892.2 524.1,891.1 525.6,890.0 527.0,888.8M537.5,878.4 538.8,877.2 540.1,875.9 541.4,874.6M550.5,863.0 551.6,862.0 552.7,861.0 553.9,860.1" fill="none" stroke="#0f640f" stroke-width="4.5" stroke-linecap="round" stroke-linejoin="round"/>
<path d="M97.8,925.1 98.1,926.6 98.5,928.1 98.8,929.6 99.1,931.0 99.5,932.5 99.8,934.0 100.2,935.5 100.5,937.0 100.9,938.5 101.2,940.0M105.8,954.4l0.05,0M116.0,965.6 117.3,966.4 118.6,967.2 120.0,968.0 121.3,968.7 122.7,969.4 124.1,970.1 125.5,970.8 126.9,971.4 128.3,972.1 129.8,972.7M144.2,978.6l0.05,0M158.9,983.8 160.5,984.3 162.0,984.8 163.6,985.2 165.1,985.7 166.7,986.1 168.2,986.5 169.8,987.0 171.3,987.4 172.9,987.9M187.1,992.1l0.05,0M201.2,997.7 202.6,998.1 204.1,998.5 205.5,999.0 206.9,999.4 208.4,999.8 209.8,1000.2 211.3,1000.6 212.7,1001.1 214.1,1001.5 215.6,1002.0M229.6,1007.5l0.05,0M240.4,997.0 241.2,995.6 241.9,994.1 242.6,992.6 243.2,991.2 243.9,989.7 244.5,988.2 245.3,986.8 246.2,985.5 247.3,984.3M259.6,989.8l0.05,0M271.4,999.0 272.3,1000.2 273.2,1001.5 274.1,1002.9 274.9,1004.2 275.7,1005.6 276.4,1007.0 277.2,1008.3 277.9,1009.7 278.6,1011.1 279.4,1012.5M285.5,1027.0l0.05,0M289.3,1042.3 289.5,1043.9 289.6,1045.6 289.6,1047.2 289.7,1048.9 289.7,1050.5 289.8,1052.2 289.9,1053.8 290.0,1055.5M290.8,1069.8l0.05,0M291.1,1084.0 291.1,1085.5 291.1,1087.0 291.2,1088.6 291.2,1090.1 291.2,1091.6 291.3,1093.1 291.3,1094.7 291.3,1096.2 291.4,1097.7M292.1,1112.1l0.05,0M292.9,1126.4 293.0,1128.0 293.1,1129.5 293.2,1131.0 293.3,1132.5 293.4,1134.1 293.5,1135.6 293.6,1137.1 293.7,1138.6 293.8,1140.1M295.3,1154.3l0.05,0M296.5,1140.1 296.6,1138.6 296.7,1137.1 296.7,1135.5 296.8,1134.0 296.8,1132.5 296.9,1131.0 296.9,1129.4 297.0,1127.9 297.0,1126.4M297.5,1112.1l0.05,0M298.1,1097.7 298.2,1096.2 298.3,1094.7 298.4,1093.2 298.4,1091.7 298.5,1090.2 298.6,1088.7 298.7,1087.2 298.8,1085.7 298.8,1084.2M299.5,1069.9l0.05,0M300.1,1055.7 300.2,1054.1 300.4,1052.6 300.6,1051.0 300.8,1049.4 301.0,1047.8 301.2,1046.3 301.4,1044.7 301.6,1043.1 301.8,1041.6M304.4,1026.9l0.05,0M309.9,1013.1 310.5,1011.7 311.1,1010.2 311.7,1008.8 312.4,1007.3 313.0,1005.9 313.6,1004.4 314.3,1003.0 314.9,1001.6 315.6,1000.2 316.3,998.8M324.6,985.1l0.05,0M333.1,971.8 334.1,970.7 335.1,969.6 336.1,968.5 337.2,967.4 338.2,966.4 339.3,965.3 340.4,964.2 341.4,963.2 342.5,962.1 343.5,961.1 344.6,960.0 345.6,958.9M356.6,945.9 356.8,945.7M367.8,932.8 368.9,931.6 370.0,930.5 371.1,929.3 372.2,928.1 373.3,927.0 374.4,925.8 375.5,924.6 376.6,923.5 377.7,922.3 378.8,921.2 379.9,920.0 381.0,918.8M393.2,905.6 393.5,905.2M404.9,891.3 405.9,890.1 406.9,889.0 407.9,887.9 408.9,886.8 410.0,885.7 411.0,884.6 412.0,883.5 413.0,882.4 414.1,881.3 415.1,880.2 416.1,879.1 417.2,878.1M429.4,865.9 429.7,865.5M442.6,854.1 443.8,853.1 445.0,852.2 446.1,851.2 447.3,850.3 448.5,849.4 449.7,848.5 450.8,847.5 452.0,846.6 453.2,845.7 454.4,844.8 455.6,843.8 456.7,842.9 457.9,842.0M471.8,830.9 472.3,830.4M486.3,819.0 487.5,818.0 488.8,817.0 490.1,816.0 491.3,815.1 492.6,814.1 493.8,813.1 495.1,812.1 496.4,811.1 497.6,810.1 498.9,809.2" fill="none" stroke="#e6000e" stroke-width="4.5" stroke-linecap="round" stroke-linejoin="round"/>
<line x1="92.3" y1="16.8" x2="149.8" y2="16.8" stroke="#000" stroke-width="4.8"/>
<line x1="91.2" y1="48.7" x2="95.2" y2="48.7" stroke="#000" stroke-width="4"/>
<line x1="111.1" y1="48.7" x2="115.1" y2="48.7" stroke="#000" stroke-width="4"/>
<line x1="131.7" y1="48.7" x2="135.7" y2="48.7" stroke="#000" stroke-width="4"/>
<line x1="91.3" y1="79.9" x2="104.5" y2="79.9" stroke="#f27f1b" stroke-width="4.5"/>
<line x1="115.2" y1="79.9" x2="118.4" y2="79.9" stroke="#f27f1b" stroke-width="4.5"/>
<line x1="128.8" y1="79.9" x2="132" y2="79.9" stroke="#f27f1b" stroke-width="4.5"/>
<line x1="143" y1="79.9" x2="149.8" y2="79.9" stroke="#f27f1b" stroke-width="4.5"/>
<line x1="311.8" y1="16.6" x2="325.7" y2="16.6" stroke="#0808e0" stroke-width="4.5"/>
<line x1="345.4" y1="16.6" x2="359.8" y2="16.6" stroke="#0808e0" stroke-width="4.5"/>
<line x1="312.1" y1="48.7" x2="317.2" y2="48.7" stroke="#0f640f" stroke-width="4.5"/>
<line x1="327.2" y1="48.7" x2="332.3" y2="48.7" stroke="#0f640f" stroke-width="4.5"/>
<line x1="342.4" y1="48.7" x2="347.5" y2="48.7" stroke="#0f640f" stroke-width="4.5"/>
<line x1="357.5" y1="48.7" x2="362.6" y2="48.7" stroke="#0f640f" stroke-width="4.5"/>
<line x1="311.8" y1="80.5" x2="329" y2="80.5" stroke="#e6000e" stroke-width="4.5"/>
<line x1="339.6" y1="80.5" x2="342.7" y2="80.5" stroke="#e6000e" stroke-width="4.5"/>
<line x1="353.7" y1="80.5" x2="368.8" y2="80.5" stroke="#e6000e" stroke-width="4.5"/>
<line x1="81.8" y1="671.9" x2="139.3" y2="671.9" stroke="#000" stroke-width="4.8"/>
<line x1="80.7" y1="703.7" x2="84.7" y2="703.7" stroke="#000" stroke-width="4"/>
<line x1="100.6" y1="703.7" x2="104.6" y2="703.7" stroke="#000" stroke-width="4"/>
<line x1="121.2" y1="703.7" x2="125.2" y2="703.7" stroke="#000" stroke-width="4"/>
<line x1="80.8" y1="735.5" x2="94" y2="735.5" stroke="#f27f1b" stroke-width="4.5"/>
<line x1="104.7" y1="735.5" x2="107.9" y2="735.5" stroke="#f27f1b" stroke-width="4.5"/>
<line x1="118.3" y1="735.5" x2="121.5" y2="735.5" stroke="#f27f1b" stroke-width="4.5"/>
<line x1="132.5" y1="735.5" x2="139.3" y2="735.5" stroke="#f27f1b" stroke-width="4.5"/>
<line x1="294.4" y1="671.9" x2="308.3" y2="671.9" stroke="#0808e0" stroke-width="4.5"/>
<line x1="328" y1="671.9" x2="342.4" y2="671.9" stroke="#0808e0" stroke-width="4.5"/>
<line x1="294.7" y1="703.7" x2="299.8" y2="703.7" stroke="#0f640f" stroke-width="4.5"/>
<line x1="309.8" y1="703.7" x2="314.9" y2="703.7" stroke="#0f640f" stroke-width="4.5"/>
<line x1="325" y1="703.7" x2="330.1" y2="703.7" stroke="#0f640f" stroke-width="4.5"/>
<line x1="340.1" y1="703.7" x2="345.2" y2="703.7" stroke="#0f640f" stroke-width="4.5"/>
<line x1="294.4" y1="735.9" x2="311.6" y2="735.9" stroke="#e6000e" stroke-width="4.5"/>
<line x1="322.2" y1="735.9" x2="325.3" y2="735.9" stroke="#e6000e" stroke-width="4.5"/>
<line x1="336.3" y1="735.9" x2="351.4" y2="735.9" stroke="#e6000e" stroke-width="4.5"/>
</svg>
</body></html>
